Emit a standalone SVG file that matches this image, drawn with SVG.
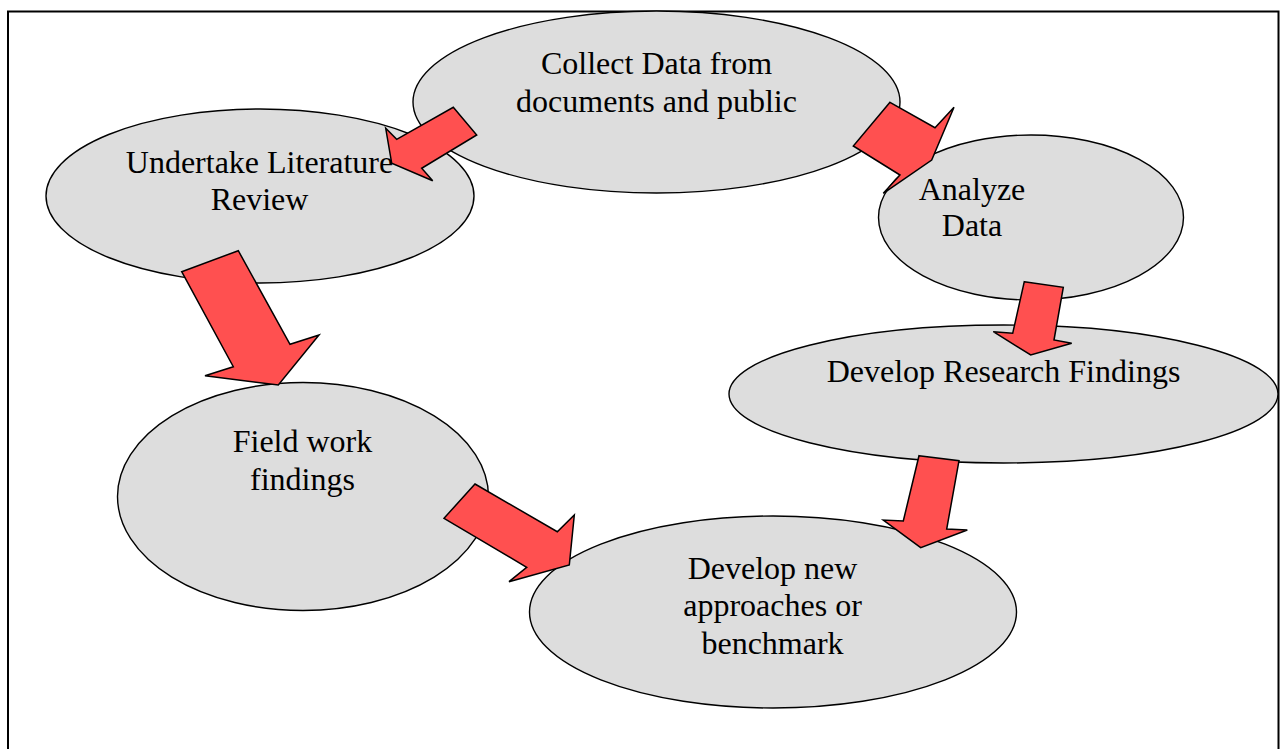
<svg xmlns="http://www.w3.org/2000/svg" width="1287" height="749" viewBox="0 0 1287 749">
<style>
.node ellipse{fill:#dddddd;stroke:#000;stroke-width:1.4}
.node text{font-family:"Liberation Serif","Times New Roman",serif;font-size:32px;fill:#000;text-anchor:middle}
.arrow{fill:#ff5050;stroke:#000;stroke-width:1.5;stroke-linejoin:miter}
</style>
<rect x="0" y="0" width="1287" height="749" fill="#fff"/>
<rect x="8" y="11.5" width="1270.5" height="770" fill="none" stroke="#000" stroke-width="2"/>
<g id="n-collect" class="node">
<ellipse cx="656.5" cy="102" rx="243.5" ry="91"/>
<text x="656.5" y="74">Collect Data from</text>
<text x="656.5" y="111.5">documents and public</text>
</g>
<g id="n-literature" class="node">
<ellipse cx="260" cy="196" rx="214" ry="87"/>
<text x="259.5" y="172.5">Undertake Literature</text>
<text x="259.5" y="209.5">Review</text>
</g>
<g id="n-analyze" class="node">
<ellipse cx="1031" cy="217.5" rx="152.5" ry="82.5"/>
<text x="972" y="199.5">Analyze</text>
<text x="972" y="236">Data</text>
</g>
<g id="n-research" class="node">
<ellipse cx="1003.5" cy="394" rx="274.5" ry="69"/>
<text x="1003.5" y="381.5">Develop Research Findings</text>
</g>
<g id="n-field" class="node">
<ellipse cx="303" cy="496.5" rx="185.5" ry="114"/>
<text x="302.5" y="451.5">Field work</text>
<text x="302.5" y="489.5">findings</text>
</g>
<g id="n-new" class="node">
<ellipse cx="773" cy="612" rx="243.5" ry="96"/>
<text x="772.5" y="578.5">Develop new</text>
<text x="772.5" y="616">approaches or</text>
<text x="772.5" y="653.5">benchmark</text>
</g>
<g id="connectors">
<polygon class="arrow" points="453.3,107.3 476.7,135 421.7,168.3 432.7,180.7 391.7,163.3 385.7,128.3 396.7,139.3"/>
<polygon class="arrow" points="890,102.3 935,127.7 954,107.3 931.7,160 883.3,193.3 900,175 853.3,146"/>
<polygon class="arrow" points="181.7,271.7 238.3,250.7 290,344.3 319,335 278.3,385 205,375.7 233.3,366.7"/>
<polygon class="arrow" points="1024.3,281.7 1063.3,287.3 1054,340 1071.7,343.3 1030.7,355 993.3,331.7 1012.7,333.3"/>
<polygon class="arrow" points="475,484 557.3,531.7 574.3,515 569.3,565 509,581.7 526.7,567.3 444,518.3"/>
<polygon class="arrow" points="919,455.7 959,460.7 946.7,529 967.3,530 920.7,547.7 883.3,520 903.3,521"/>
</g>
</svg>
